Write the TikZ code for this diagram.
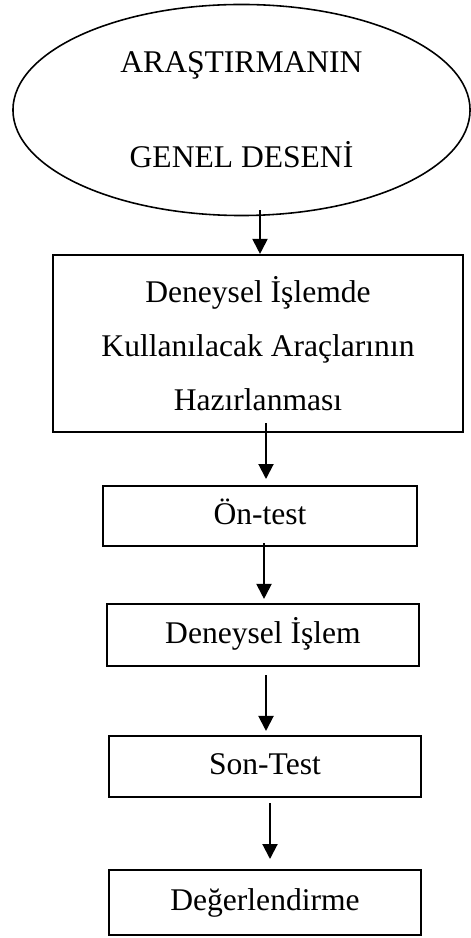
\documentclass[tikz,border=0pt]{standalone}
\usepackage{fontspec}
\setmainfont{Liberation Serif}
\usetikzlibrary{arrows.meta,shapes.geometric,calc}
\tikzstyle{kutu} = [draw,rectangle,line width=0.76pt,inner sep=0pt,minimum width=118.6pt,text height=8.5pt,text depth=2.4pt,font=\fontsize{12}{14}\selectfont]
\tikzstyle{ok} = [-{Triangle[length=5.7pt,width=5.7pt]},line width=0.76pt]

\begin{document}
\begin{tikzpicture}[x=0.38pt,y=-0.38pt]
        \useasboundingbox (0,0) rectangle (470,938);

        \node[draw,ellipse,line width=0.6pt,inner sep=0pt,minimum width=173.7pt,minimum height=80.2pt,align=center,font=\fontsize{12}{36.1}\selectfont] (desen) at (241.5,110) {ARAŞTIRMANIN\\GENEL DESENİ};
        \node[draw,rectangle,line width=0.76pt,inner sep=0pt,minimum width=155.8pt,minimum height=67.3pt,align=center,font=\fontsize{12}{20.5}\selectfont] (araclar) at (258,343.5) {Deneysel İşlemde\\Kullanılacak Araçlarının\\Hazırlanması};
        \node[kutu,minimum width=119.3pt,minimum height=22.8pt] (ontest) at (260,516) {Ön-test};
        \node[kutu,minimum height=23.6pt] (islem) at (263,635) {Deneysel İşlem};
        \node[kutu,minimum height=23.2pt] (sontest) at (265,766.5) {Son-Test};
        \node[kutu,minimum height=24.7pt] (deger) at (265,902.5) {Değerlendirme};

        \draw[ok] ($(desen.south)+(18.5,-6)$) to ($(araclar.north)+(2,0)$);
        \draw[ok] ($(araclar.south)+(8,-10)$) to ($(ontest.north)+(6,-6)$);
        \draw[ok] ($(ontest.south)+(4,-4)$) to ($(islem.north)+(1,-4)$);
        \draw[ok] ($(islem.south)+(3,8)$) to ($(sontest.north)+(1,-4)$);
        \draw[ok] ($(sontest.south)+(5,5)$) to ($(deger.north)+(5,-10)$);
\end{tikzpicture}
\end{document}
